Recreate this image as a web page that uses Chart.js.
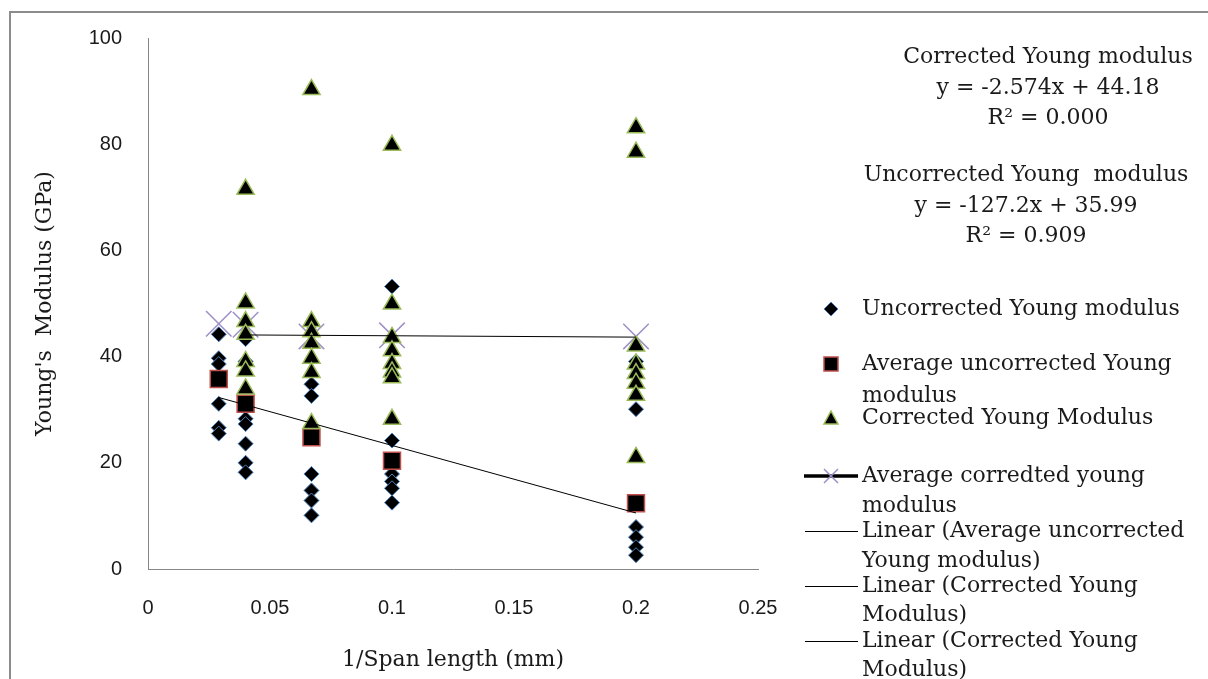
<!DOCTYPE html>
<html>
<head>
<meta charset="utf-8">
<script src="https://cdn.jsdelivr.net/npm/chart.js@4.4.1/dist/chart.umd.min.js"></script>
<style>
  html, body { margin: 0; padding: 0; background: #fff; }
  .chart-container { position: relative; width: 1208px; height: 679px; }
</style>
</head>
<body>
<div class="chart-container">
    <canvas id="youngChart"></canvas>
</div>

<script>
// 1/span length positions (mm^-1)
const spanX = [0.029, 0.04, 0.067, 0.1, 0.2];

// individual uncorrected values, one list per span
const uncorrectedVals = [
    [44.2, 39.7, 38.6, 31.1, 26.6, 25.5],
    [43.3, 39.1, 28.3, 27.3, 23.6, 20.0, 18.2],
    [46.1, 34.8, 32.6, 17.9, 14.8, 12.9, 10.1],
    [53.2, 24.2, 17.9, 16.5, 15.2, 12.5],
    [39.1, 30.1, 7.9, 6.0, 4.1, 2.6]
];
const avgUncorrected = [35.8, 31.1, 24.8, 20.4, 12.4];

// corrected values start at the second span
const correctedX = [0.04, 0.067, 0.1, 0.2];
const correctedVals = [
    [71.5, 50.1, 46.6, 44.2, 39.1, 37.3, 33.9],
    [90.3, 46.6, 44.7, 42.5, 39.7, 37.0, 27.4],
    [79.8, 49.9, 43.6, 41.1, 38.7, 37.1, 36.0, 28.2],
    [83.1, 78.5, 42.0, 38.6, 36.8, 35.0, 32.7, 21.0]
];
const avgCorrected = [46.2, 46.0, 43.8, 44.0, 43.8];

// trendline coefficients (as printed on the chart)
const corrFit = { slope: -2.574, intercept: 44.18 };
const uncorrFit = { slope: -127.2, intercept: 35.99 };

const xTicks = [0, 0.05, 0.1, 0.15, 0.2, 0.25];
const yTicks = [0, 20, 40, 60, 80, 100];

const equationText = [
    ['Corrected Young modulus', 'y = -2.574x + 44.18', 'R² = 0.000'],
    ['Uncorrected Young  modulus', 'y = -127.2x + 35.99', 'R² = 0.909']
];
const legendText = [
    ['Uncorrected Young modulus'],
    ['Average uncorrected Young', 'modulus'],
    ['Corrected Young Modulus'],
    ['Average corredted young', 'modulus'],
    ['Linear (Average uncorrected', 'Young modulus)'],
    ['Linear (Corrected Young', 'Modulus)'],
    ['Linear (Corrected Young', 'Modulus)']
];

const SERIF = '"DejaVu Serif", "Liberation Serif", serif';

function flatten(xs, lists) {
    const pts = [];
    lists.forEach((vals, i) => vals.forEach(v => pts.push({ x: xs[i], y: v })));
    return pts;
}
function fitLine(fit, xs) {
    const lo = Math.min(...xs), hi = Math.max(...xs);
    return [{ x: lo, y: fit.slope * lo + fit.intercept }, { x: hi, y: fit.slope * hi + fit.intercept }];
}

// frame, equations and legend drawn around the plot
const decorPlugin = {
    id: 'decor',
    beforeDraw(chart) {
        const ctx = chart.ctx;
        ctx.save();
        ctx.strokeStyle = '#8c8c8c';
        ctx.lineWidth = 2;
        ctx.beginPath();
        ctx.moveTo(10, 679);
        ctx.lineTo(10, 12);
        ctx.lineTo(1208, 12);
        ctx.stroke();
        ctx.restore();
    },
    afterDraw(chart) {
        const ctx = chart.ctx;
        ctx.save();
        ctx.fillStyle = '#1a1a1a';
        ctx.font = '22px ' + SERIF;
        ctx.textBaseline = 'middle';

        // trendline equations
        ctx.textAlign = 'center';
        const eqPos = [{ x: 1048, y: [57, 88, 118] }, { x: 1026, y: [175, 206, 236] }];
        equationText.forEach((lines, i) => {
            lines.forEach((t, j) => ctx.fillText(t, eqPos[i].x, eqPos[i].y[j]));
        });

        // legend
        ctx.textAlign = 'left';
        const rows = [[309], [364, 396], [418], [476, 506], [531, 561], [586, 615], [641, 670]];
        legendText.forEach((lines, i) => {
            lines.forEach((t, j) => ctx.fillText(t, 862, rows[i][j]));
        });

        const mx = 831;
        // diamond
        let y = rows[0][0];
        ctx.beginPath();
        ctx.moveTo(mx - 7, y); ctx.lineTo(mx, y - 7); ctx.lineTo(mx + 7, y); ctx.lineTo(mx, y + 7); ctx.closePath();
        ctx.fillStyle = '#000'; ctx.fill();
        ctx.strokeStyle = '#4f81bd'; ctx.lineWidth = 1; ctx.stroke();
        // square
        y = rows[1][0];
        ctx.fillRect(mx - 7, y - 7, 14, 14);
        ctx.strokeStyle = '#c0504d'; ctx.lineWidth = 1.5; ctx.strokeRect(mx - 7, y - 7, 14, 14);
        // triangle
        y = rows[2][0];
        ctx.beginPath();
        ctx.moveTo(mx, y - 7); ctx.lineTo(mx + 7, y + 6); ctx.lineTo(mx - 7, y + 6); ctx.closePath();
        ctx.fill(); ctx.strokeStyle = '#9bbb59'; ctx.stroke();
        // thick line with cross
        y = rows[3][0];
        ctx.strokeStyle = '#000'; ctx.lineWidth = 3.5;
        ctx.beginPath(); ctx.moveTo(804, y); ctx.lineTo(858, y); ctx.stroke();
        ctx.strokeStyle = '#9f8fc6'; ctx.lineWidth = 1.5;
        ctx.beginPath();
        ctx.moveTo(mx - 7, y - 7); ctx.lineTo(mx + 7, y + 7);
        ctx.moveTo(mx + 7, y - 7); ctx.lineTo(mx - 7, y + 7);
        ctx.stroke();
        // thin trendline keys
        ctx.strokeStyle = '#000'; ctx.lineWidth = 1;
        [rows[4][0], rows[5][0], rows[6][0]].forEach(ly => {
            ctx.beginPath(); ctx.moveTo(805, ly + 0.5); ctx.lineTo(858, ly + 0.5); ctx.stroke();
        });
        ctx.restore();
    }
};

document.addEventListener('DOMContentLoaded', function() {
    const ctx = document.getElementById('youngChart').getContext('2d');
    new Chart(ctx, {
        type: 'scatter',
        data: {
            datasets: [
                {
                    label: 'Linear (Average uncorrected Young modulus)',
                    type: 'line',
                    data: fitLine(uncorrFit, spanX),
                    borderColor: '#000',
                    borderWidth: 1,
                    pointRadius: 0,
                    fill: false,
                    order: 0
                },
                {
                    label: 'Linear (Corrected Young Modulus)',
                    type: 'line',
                    data: fitLine(corrFit, correctedX),
                    borderColor: '#000',
                    borderWidth: 1,
                    pointRadius: 0,
                    fill: false,
                    order: 0
                },
                {
                    label: 'Corrected Young Modulus',
                    data: flatten(correctedX, correctedVals),
                    pointStyle: 'triangle',
                    pointRadius: 10,
                    backgroundColor: '#000',
                    borderColor: '#9bbb59',
                    borderWidth: 1.5,
                    order: 1
                },
                {
                    label: 'Average uncorrected Young modulus',
                    data: spanX.map((x, i) => ({ x: x, y: avgUncorrected[i] })),
                    pointStyle: 'rect',
                    pointRadius: 12,
                    backgroundColor: '#000',
                    borderColor: '#c0504d',
                    borderWidth: 1.5,
                    order: 2
                },
                {
                    label: 'Uncorrected Young modulus',
                    data: flatten(spanX, uncorrectedVals),
                    pointStyle: 'rectRot',
                    pointRadius: 7.5,
                    backgroundColor: '#000',
                    borderColor: '#4f81bd',
                    borderWidth: 1,
                    order: 3
                },
                {
                    label: 'Average corredted young modulus',
                    data: spanX.map((x, i) => ({ x: x, y: avgCorrected[i] })),
                    pointStyle: 'crossRot',
                    pointRadius: 18,
                    borderColor: '#9f8fc6',
                    borderWidth: 1.5,
                    order: 4
                }
            ]
        },
        options: {
            responsive: true,
            maintainAspectRatio: false,
            animation: false,
            layout: { padding: { left: 0, top: 35, right: 450, bottom: 0 } },
            plugins: {
                legend: { display: false },
                tooltip: { enabled: false }
            },
            scales: {
                x: {
                    type: 'linear',
                    min: 0,
                    max: 0.25,
                    afterFit: scale => { scale.height = 110; },
                    afterBuildTicks: scale => { scale.ticks = xTicks.map(v => ({ value: v })); },
                    grid: { display: false, drawTicks: false },
                    border: { display: true, color: '#868686', width: 1 },
                    ticks: {
                        padding: 27,
                        color: '#1a1a1a',
                        font: { family: '"Liberation Sans", Arial, sans-serif', size: 20 },
                        callback: value => String(+value.toFixed(2))
                    },
                    title: {
                        display: true,
                        text: '1/Span length (mm)',
                        color: '#1a1a1a',
                        font: { family: SERIF, size: 22 },
                        padding: { top: 0, bottom: 6 }
                    }
                },
                y: {
                    type: 'linear',
                    min: 0,
                    max: 100,
                    afterFit: scale => { scale.width = 148; },
                    afterBuildTicks: scale => { scale.ticks = yTicks.map(v => ({ value: v })); },
                    grid: { display: false, drawTicks: false },
                    border: { display: true, color: '#868686', width: 1 },
                    ticks: {
                        padding: 26,
                        color: '#1a1a1a',
                        font: { family: '"Liberation Sans", Arial, sans-serif', size: 20 }
                    },
                    title: {
                        display: true,
                        text: "Young's  Modulus (GPa)",
                        color: '#1a1a1a',
                        font: { family: SERIF, size: 22 },
                        padding: { top: 32, bottom: 0 }
                    }
                }
            }
        },
        plugins: [decorPlugin]
    });
});
</script>
</body>
</html>
